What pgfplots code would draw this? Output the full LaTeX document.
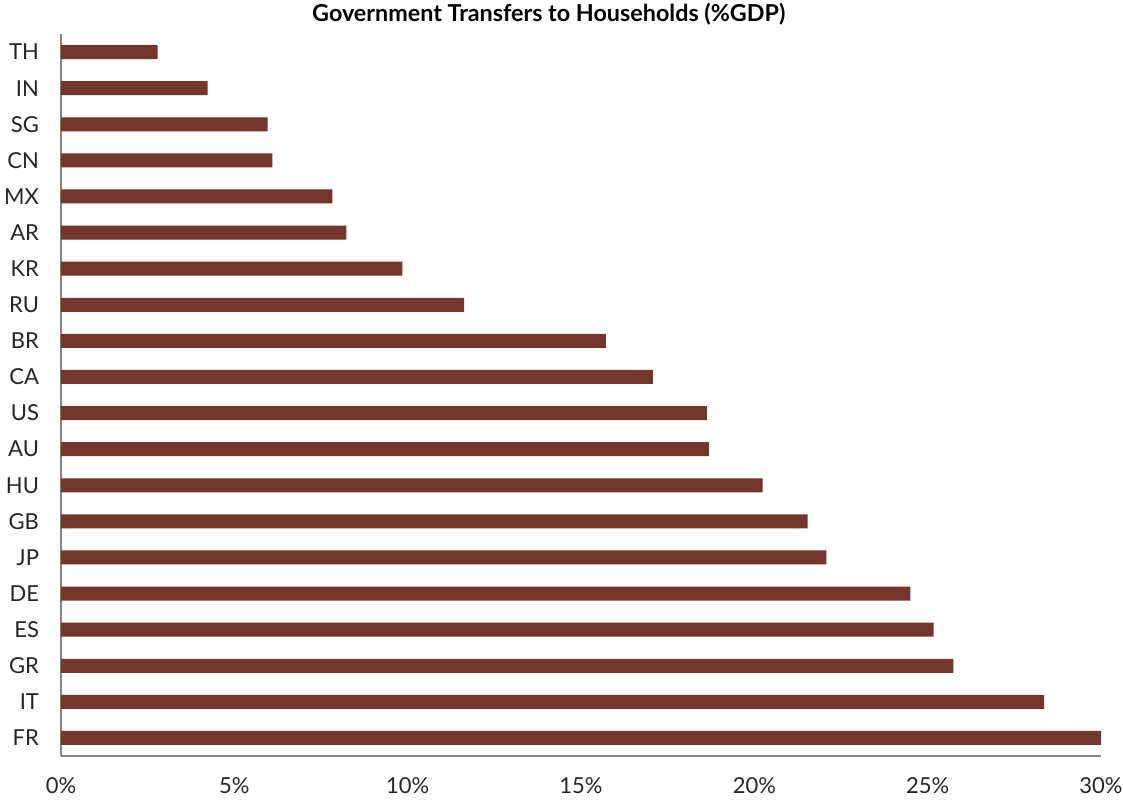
\documentclass[border=0pt]{standalone}
\usepackage{pgfplots}
\pgfplotsset{compat=1.18}
\usepackage{fontspec}
\setmainfont{Lato}
\definecolor{barc}{HTML}{74352A}
\definecolor{axc}{HTML}{868686}
\begin{document}
\begin{tikzpicture}
\useasboundingbox (-45.75pt,-32.25pt) rectangle (796.5pt,567pt);
\begin{axis}[
  at={(0,0)}, anchor=south west,
  scale only axis, width=780pt, height=541.5pt,
  xmin=0, xmax=30, ymin=-0.5, ymax=19.5,
  y dir=reverse,
  axis x line*=bottom, axis y line*=left,
  axis line style={axc, line width=1.5pt},
  x axis line style={-}, y axis line style={-},
  xtick={0,5,10,15,20,25,30},
  xticklabels={0\%,5\%,10\%,15\%,20\%,25\%,30\%},
  ytick={0,...,19},
  yticklabels={TH,IN,SG,CN,MX,AR,KR,RU,BR,CA,US,AU,HU,GB,JP,DE,ES,GR,IT,FR},
  major tick length=0pt,
  tick label style={font=\fontsize{16.5}{19}\selectfont, text=black!85},
  xticklabel style={yshift=-13pt},
  yticklabel style={xshift=-13pt},
  xbar, bar width=10.5pt, bar shift=0pt,
  title={\bfseries Government Transfers to Households (\%GDP)},
  every axis title shift=0pt,
  title style={font=\fontsize{17.5}{20}\selectfont, at={(0.469,1)}, anchor=center, yshift=15pt},
]
\addplot[fill=barc, draw=none] coordinates {
(2.79,0) (4.23,1) (5.96,2) (6.10,3) (7.83,4) (8.23,5) (9.85,6) (11.63,7) (15.72,8) (17.07,9)
(18.63,10) (18.69,11) (20.24,12) (21.54,13) (22.08,14) (24.50,15) (25.17,16) (25.74,17) (28.36,18) (30.0,19)
};
\end{axis}
\end{tikzpicture}
\end{document}
